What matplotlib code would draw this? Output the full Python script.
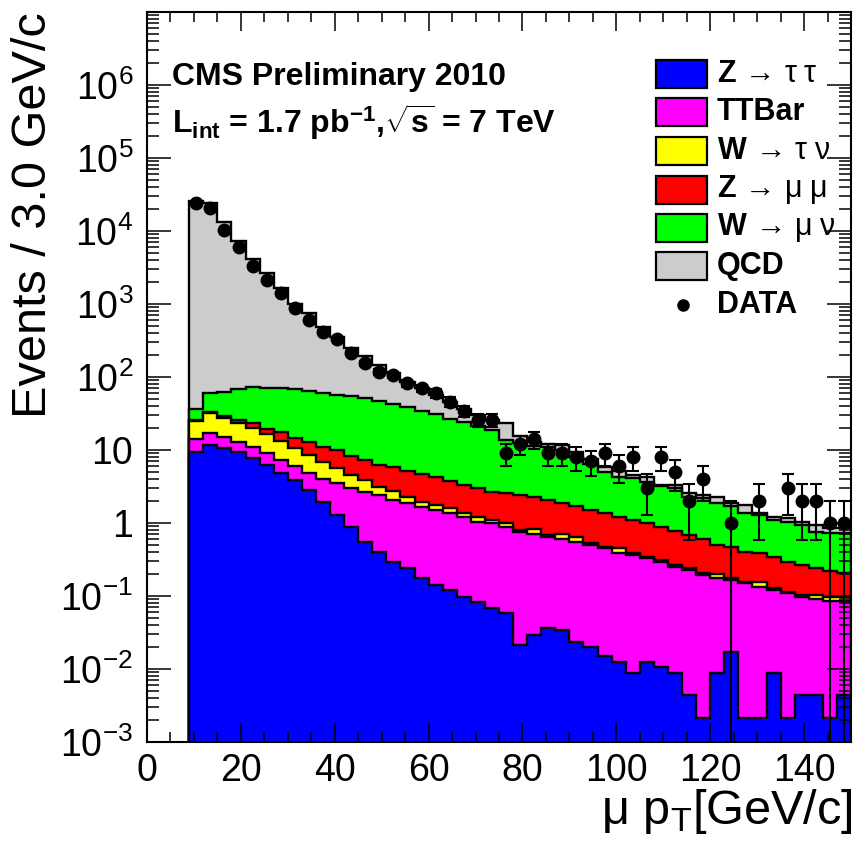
import numpy as np
import matplotlib
matplotlib.use('Agg')
import matplotlib.pyplot as plt
from matplotlib.patches import Rectangle
from matplotlib.lines import Line2D
from matplotlib.ticker import FixedLocator, FixedFormatter, LogLocator, NullFormatter, MultipleLocator

plt.rcParams.update({
    'font.family': ['Liberation Sans', 'DejaVu Sans'],
    'mathtext.fontset': 'custom',
    'mathtext.rm': 'Liberation Sans',
    'mathtext.it': 'Liberation Sans:italic',
    'mathtext.bf': 'Liberation Sans:bold',
    'mathtext.sf': 'Liberation Sans',
})

# ---------------- data ----------------
bin_edges = np.arange(9, 151, 3)  # 9..150 GeV, 3 GeV bins

z_tautau = [9.5, 11.7, 10.5, 9.5, 7.7, 6.2, 4.8, 3.9, 2.8, 1.96, 1.29, 0.89, 0.555, 0.40, 0.295, 0.24,
            0.175, 0.141, 0.121, 0.098, 0.084, 0.068, 0.058, 0.021, 0.029, 0.036, 0.034, 0.0237, 0.0202,
            0.0151, 0.0126, 0.0087, 0.0126, 0.0108, 0.0087, 0.0044, 0.0021, 0.0087, 0.0172, 0.0021,
            0.0021, 0.0087, 0.0021, 0.0044, 0.0044, 0.0021, 0.0044]
ttbar = [4.8, 5.6, 4.7, 3.5, 3.4, 3.0, 2.4, 2.1, 2.0, 2.1, 2.2, 2.1, 2.1, 2.0, 1.78, 1.62, 1.50, 1.37,
         1.24, 1.12, 0.96, 0.92, 0.83, 0.74, 0.68, 0.61, 0.57, 0.53, 0.48, 0.435, 0.38, 0.356, 0.317,
         0.284, 0.243, 0.223, 0.192, 0.166, 0.149, 0.147, 0.132, 0.112, 0.107, 0.094, 0.086, 0.082, 0.080]
w_taunu = [10.7, 14.5, 12.0, 10.2, 8.7, 7.4, 6.1, 4.6, 3.7, 2.8, 2.1, 1.5, 1.2, 0.75, 0.63, 0.44, 0.29,
           0.26, 0.23, 0.14, 0.18, 0.11, 0.12, 0.04, 0.11, 0.03, 0.10, 0.09, 0.025, 0.022, 0.06, 0.018,
           0.016, 0.015, 0.013, 0.011, 0.010, 0.028, 0.008, 0.007, 0.021, 0.006, 0.005, 0.005, 0.014,
           0.013, 0.013]
z_mumu = [0.5, 1.2, 2.0, 2.6, 3.4, 2.9, 4.3, 4.0, 4.5, 4.2, 4.4, 3.8, 3.4, 3.05, 3.1, 2.9, 2.74, 2.43,
          2.21, 1.94, 1.78, 1.6, 1.54, 1.62, 1.43, 1.39, 1.2, 1.07, 0.985, 0.89, 0.77, 0.72, 0.64, 0.58,
          0.52, 0.45, 0.40, 0.30, 0.29, 0.25, 0.23, 0.22, 0.18, 0.16, 0.135, 0.125, 0.108]
w_munu = [11.5, 28, 34, 42, 49, 52, 53, 53, 52, 50, 47, 46, 44, 41, 37, 34, 29, 27, 23, 21, 18, 16, 11,
          9.9, 9.1, 9.0, 8.1, 6.3, 4.9, 3.7, 3.1, 3.0, 2.7, 2.3, 2.2, 1.6, 1.58, 1.35, 1.25, 0.95, 0.9,
          0.75, 0.745, 0.67, 0.52, 0.5, 0.515]
qcd = [25960, 23840, 13090, 7290, 4018, 2558, 1605, 932, 680, 428, 299, 193, 143, 99, 72, 47, 36.5, 26,
       19, 12.6, 9.1, 7.0, 10, 3.2, 1.6, 1.2, 1.8, 1.4, 1.1, 0.8, 0.8, 0.4, 0.6, 0.1, 0.3, 0.25, 0.24,
       0.44, 0.15, 0.41, 0.07, 0.12, 0.12, 0.1, 0.18, 0.125, 0.125]
data = [23900, 20400, 10300, 6100, 3320, 2130, 1400, 873, 604, 418, 328, 215, 154, 118, 108, 82, 70, 60,
        46, 34, 26, 26, 9, 12, 14, 9, 9, 8, 7, 9, 6, 8, 3, 8, 5, 2, 4, 0, 1, 0, 2, 0, 3, 2, 2, 1, 1]

labels = [r"Z$\,\mathrm{\rightarrow\,\tau\;\tau}$", "TTBar", r"W$\,\mathrm{\rightarrow\,\tau\;\nu}$",
          r"Z$\,\mathrm{\rightarrow\,\mu\;\mu}$", r"W$\,\mathrm{\rightarrow\,\mu\;\nu}$", "QCD"]
colors = ['#0000ff', '#ff00ff', '#ffff00', '#ff0000', '#00ff00', '#cccccc']

# ---------------- figure ----------------
W, H = 856, 849
fig = plt.figure(figsize=(W / 100, H / 100), dpi=100)
L, R, T, B = 147, 851, 12, 742
ax = fig.add_axes([L / W, 1 - B / H, (R - L) / W, (B - T) / H])

stack = np.cumsum(np.vstack([z_tautau, ttbar, w_taunu, z_mumu, w_munu, qcd]), axis=0)
for i in range(len(colors) - 1, -1, -1):
    ax.stairs(stack[i], bin_edges, baseline=1e-6, fill=True, facecolor=colors[i], edgecolor='none')
    ax.stairs(stack[i], bin_edges, baseline=1e-6, fill=False, color='black', lw=1.7)

centers = 0.5 * (bin_edges[:-1] + bin_edges[1:])
N = np.array(data, dtype=float)
m = N > 0
err = np.sqrt(N[m])
lo = N[m] - np.maximum(N[m] - err, 1e-6)
ax.errorbar(centers[m], N[m], yerr=[lo, err], fmt='o', color='black', ms=9, elinewidth=1.5,
            capsize=4.5, capthick=1.5, zorder=5)

ax.set_xlim(0, 150)
ax.set_yscale('log')
ax.set_ylim(1e-3, 1e7)

ax.xaxis.set_major_locator(MultipleLocator(20))
ax.xaxis.set_minor_locator(MultipleLocator(5))
yt = [10.0 ** k for k in range(-3, 7)]
ylab = [r'$10^{-3}$', r'$10^{-2}$', r'$10^{-1}$', '1', '10', r'$10^{2}$', r'$10^{3}$', r'$10^{4}$',
        r'$10^{5}$', r'$10^{6}$']
ax.yaxis.set_major_locator(FixedLocator(yt))
ax.yaxis.set_major_formatter(FixedFormatter(ylab))
ax.yaxis.set_minor_locator(LogLocator(base=10, subs=np.arange(2, 10), numticks=30))
ax.yaxis.set_minor_formatter(NullFormatter())

ax.tick_params(which='both', direction='in', top=True, right=True, width=1.1, labelsize=27)
ax.tick_params(axis='y', which='major', length=17, pad=10)
ax.tick_params(axis='y', which='minor', length=8.6)
ax.tick_params(axis='x', which='major', length=14, pad=8)
ax.tick_params(axis='x', which='minor', length=7)
for s in ax.spines.values():
    s.set_linewidth(1.5)

# axis titles
fig.text(34 / W, 1 - 12 / H, "Events / 3.0 GeV/c", rotation=90, ha='center', va='top', fontsize=35)
fig.text(853 / W, 1 - 824 / H, r"μ p$_{\mathrm{T}}$[GeV/c]", ha='right', va='baseline', fontsize=35)

# annotations
fig.text(172 / W, 1 - 85 / H, "CMS Preliminary 2010", fontsize=23, fontweight='bold', va='baseline')
fig.text(172 / W, 1 - 133 / H,
         r"L$_{\mathbf{int}}$ = 1.7 pb$^{\mathbf{-1}}$,$\sqrt{\mathbf{s}}$ = 7 TeV",
         fontsize=23, fontweight='bold', va='baseline')

# legend (manual, ROOT style)
rows = [74, 112, 151, 190, 228, 266, 305]
for i, lab in enumerate(labels):
    yc = rows[i]
    fig.add_artist(Rectangle((656 / W, 1 - (yc + 14) / H), 51 / W, 28 / H, transform=fig.transFigure,
                             facecolor=colors[i], edgecolor='black', lw=1.6))
    fig.text(717 / W, 1 - yc / H, lab, fontsize=22, fontweight='bold', va='center', ha='left')
fig.add_artist(Line2D([683 / W], [1 - rows[6] / H], marker='o', color='black', ms=8,
                      transform=fig.transFigure))
fig.text(717 / W, 1 - rows[6] / H, "DATA", fontsize=22, fontweight='bold', va='center', ha='left')

fig.savefig('out.png', dpi=100)
